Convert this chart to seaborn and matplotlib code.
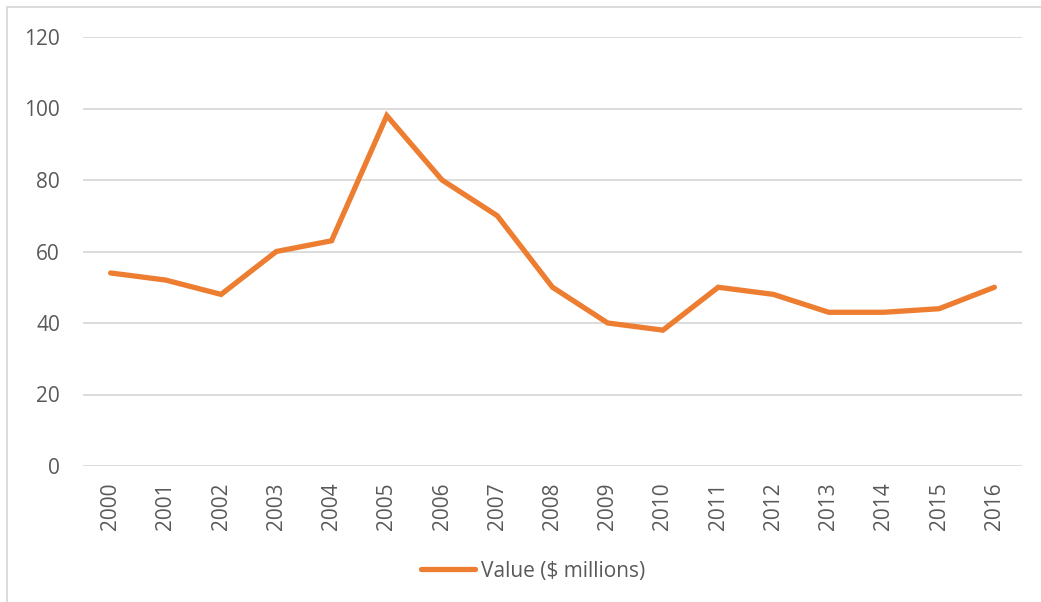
import matplotlib
matplotlib.use("Agg")
import matplotlib.pyplot as plt
from matplotlib.lines import Line2D
import seaborn as sns
import pandas as pd

years = ["2000", "2001", "2002", "2003", "2004", "2005", "2006", "2007", "2008",
         "2009", "2010", "2011", "2012", "2013", "2014", "2015", "2016"]
values = [54, 52, 48, 60, 63, 98, 80, 70, 50, 40, 38, 50, 48, 43, 43, 44, 50]
series_name = "Value ($ millions)"
y_ticks = [0, 20, 40, 60, 80, 100, 120]

sns.set_style("white")
plt.rcParams["font.family"] = ["Open Sans", "DejaVu Sans"]

df = pd.DataFrame({"Year": years, "Value": values})
df["pos"] = range(len(years))

fig = plt.figure(figsize=(10.41, 6.02), dpi=100)
ax = fig.add_axes([83 / 1041, 1 - 466 / 602, (1022 - 83) / 1041, (466 - 37) / 602])

sns.lineplot(data=df, x="pos", y="Value", ax=ax, color="#ED7D31",
             linewidth=3.8, solid_capstyle="round", solid_joinstyle="miter",
             label=series_name, legend=False)

ax.set_xlim(-0.5, len(years) - 0.5)
ax.set_ylim(0, 120)
ax.set_yticks(y_ticks)
ax.set_yticklabels([str(t) for t in y_ticks])
ax.set_xticks(range(len(years)))
ax.set_xticklabels(years, rotation=90)
ax.set_xlabel("")
ax.set_ylabel("")
ax.grid(axis="y", color="#D9D9D9", linewidth=1.3)
ax.set_axisbelow(True)
for s in ax.spines.values():
    s.set_visible(False)
ax.tick_params(axis="both", length=0, labelsize=15, labelcolor="#595959")
ax.tick_params(axis="y", pad=16.5)
ax.tick_params(axis="x", pad=12)

handle = Line2D([], [], color="#ED7D31", linewidth=3.8, solid_capstyle="round")
fig.legend([handle], [series_name], loc="center", bbox_to_anchor=(533 / 1041, 1 - 571 / 602),
           frameon=False, fontsize=15, labelcolor="#595959", handlelength=2.6,
           handletextpad=0.3)

# chart area outline
fig.add_artist(Line2D([7 / 1041, 7 / 1041], [0, 1 - 7 / 602], transform=fig.transFigure,
                      color="#D9D9D9", linewidth=1.3))
fig.add_artist(Line2D([7 / 1041, 1], [1 - 7 / 602, 1 - 7 / 602], transform=fig.transFigure,
                      color="#D9D9D9", linewidth=1.3))

fig.savefig("out.png", dpi=100, facecolor="white")
